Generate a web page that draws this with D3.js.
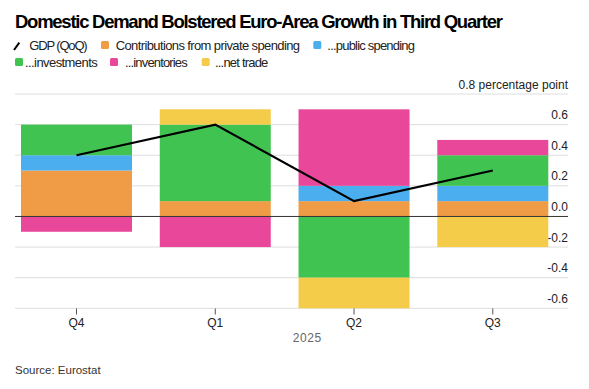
<!DOCTYPE html>
<html>
<head>
<meta charset="utf-8">
<script src="https://cdn.jsdelivr.net/npm/d3@7"></script>
<style>
  body { margin: 0; background: #fff; }
  svg { display: block; font-family: "Liberation Sans", Arial, sans-serif; }
</style>
</head>
<body>
<svg id="chart" width="589" height="389"></svg>
<script>
// chart data
const quarters = ["Q4", "Q1", "Q2", "Q3"];
const gdp = [0.4, 0.6, 0.1, 0.3];
const privateSpending = [0.3, 0.1, 0.1, 0.1];
const publicSpending = [0.1, 0, 0.1, 0.1];
const investments = [0.2, 0.5, -0.4, 0.2];
const inventories = [-0.1, -0.2, 0.5, 0.1];
const netTrade = [0, 0.1, -0.2, -0.2];
const yTicks = [0.8, 0.6, 0.4, 0.2, 0, -0.2, -0.4, -0.6];

const seriesKeys = ["private", "public", "investments", "inventories", "netTrade"];
const seriesColors = {
	private: "#f09c46",
	public: "#4aaeef",
	investments: "#41c351",
	inventories: "#e8479a",
	netTrade: "#f5cc4a"
};

const rows = quarters.map((q, i) => ({
	q,
	private: privateSpending[i],
	public: publicSpending[i],
	investments: investments[i],
	inventories: inventories[i],
	netTrade: netTrade[i]
}));

const svg = d3.select("#chart");

const x = d3.scaleBand().domain(quarters).range([21, 548.3]).paddingInner(0.2).paddingOuter(0);
const y = d3.scaleLinear().domain([-0.6, 0.8]).range([308.3, 94]);
const left = 15, right = 568;

function fmt(v) {
	return d3.format(".1f")(v).replace("\u2212", "-");
}

// title
svg.append("text")
	.attr("x", 15).attr("y", 28)
	.attr("font-size", 18.5).attr("font-weight", "bold").attr("fill", "#000")
	.attr("textLength", 488).attr("lengthAdjust", "spacing")
	.text("Domestic Demand Bolstered Euro-Area Growth in Third Quarter");

// legend
const legend = svg.append("g").attr("font-size", 13).attr("fill", "#222");
legend.append("line")
	.attr("x1", 14).attr("y1", 50).attr("x2", 19.3).attr("y2", 42.7)
	.attr("stroke", "#000").attr("stroke-width", 2);
const legendItems = [
	{ key: null, label: "GDP (QoQ)", sx: null, tx: 29.3, tw: 58.4, cy: 45 },
	{ key: "private", label: "Contributions from private spending", sx: 101, tx: 115.7, tw: 184.3, cy: 45 },
	{ key: "public", label: "...public spending", sx: 313.3, tx: 327.3, tw: 87.7, cy: 45 },
	{ key: "investments", label: "...investments", sx: 15, tx: 25, tw: 72.7, cy: 62 },
	{ key: "inventories", label: "...inventories", sx: 110, tx: 125, tw: 62.7, cy: 62 },
	{ key: "netTrade", label: "...net trade", sx: 201.7, tx: 215, tw: 53.3, cy: 62 }
];
legendItems.forEach(d => {
	if (d.key) {
		legend.append("rect")
			.attr("x", d.sx).attr("y", d.cy - 4)
			.attr("width", 8).attr("height", 8).attr("rx", 1.5)
			.attr("fill", seriesColors[d.key]);
	}
	legend.append("text")
		.attr("x", d.tx).attr("y", d.cy + 4.5)
		.attr("textLength", d.tw).attr("lengthAdjust", "spacing")
		.text(d.label);
});

// gridlines
svg.append("g").selectAll("line")
	.data(yTicks.filter(t => t !== 0))
	.join("line")
	.attr("x1", left).attr("x2", right)
	.attr("y1", d => y(d)).attr("y2", d => y(d))
	.attr("stroke", "#dedede").attr("stroke-width", 1);

// y labels
svg.append("g").attr("font-size", 12).attr("fill", "#222").attr("text-anchor", "end")
	.selectAll("text")
	.data(yTicks)
	.join("text")
	.attr("x", right)
	.attr("y", d => y(d) - 5.5)
	.text(d => d === 0.8 ? "0.8 percentage point" : fmt(d));

// stacked bars
const stacked = d3.stack().keys(seriesKeys).offset(d3.stackOffsetDiverging)(rows);
svg.append("g").selectAll("g")
	.data(stacked)
	.join("g")
	.attr("fill", d => seriesColors[d.key])
	.selectAll("rect")
	.data(d => d.filter(p => p[1] !== p[0]))
	.join("rect")
	.attr("x", d => x(d.data.q))
	.attr("width", x.bandwidth())
	.attr("y", d => y(Math.max(d[0], d[1])))
	.attr("height", d => Math.abs(y(d[0]) - y(d[1])));

// zero line
svg.append("line")
	.attr("x1", left).attr("x2", right)
	.attr("y1", y(0)).attr("y2", y(0))
	.attr("stroke", "#333").attr("stroke-width", 1);

// GDP line
const line = d3.line()
	.x((d, i) => x(quarters[i]) + x.bandwidth() / 2)
	.y(d => y(d));
svg.append("path")
	.datum(gdp)
	.attr("d", line)
	.attr("fill", "none")
	.attr("stroke", "#000")
	.attr("stroke-width", 2.2);

// x axis ticks and labels
const xg = svg.append("g");
xg.selectAll("line")
	.data(quarters)
	.join("line")
	.attr("x1", d => x(d) + x.bandwidth() / 2)
	.attr("x2", d => x(d) + x.bandwidth() / 2)
	.attr("y1", 308.5).attr("y2", 314.5)
	.attr("stroke", "#555").attr("stroke-width", 1);
xg.selectAll("text")
	.data(quarters)
	.join("text")
	.attr("x", d => x(d) + x.bandwidth() / 2)
	.attr("y", 327)
	.attr("text-anchor", "middle")
	.attr("font-size", 12).attr("fill", "#222")
	.text(d => d);
svg.append("text")
	.attr("x", 292.7).attr("y", 341.5)
	.attr("font-size", 12).attr("fill", "#666")
	.attr("letter-spacing", 0.6)
	.text("2025");

// source
svg.append("text")
	.attr("x", 15).attr("y", 374)
	.attr("font-size", 11.5).attr("fill", "#333")
	.text("Source: Eurostat");
</script>
</body>
</html>
